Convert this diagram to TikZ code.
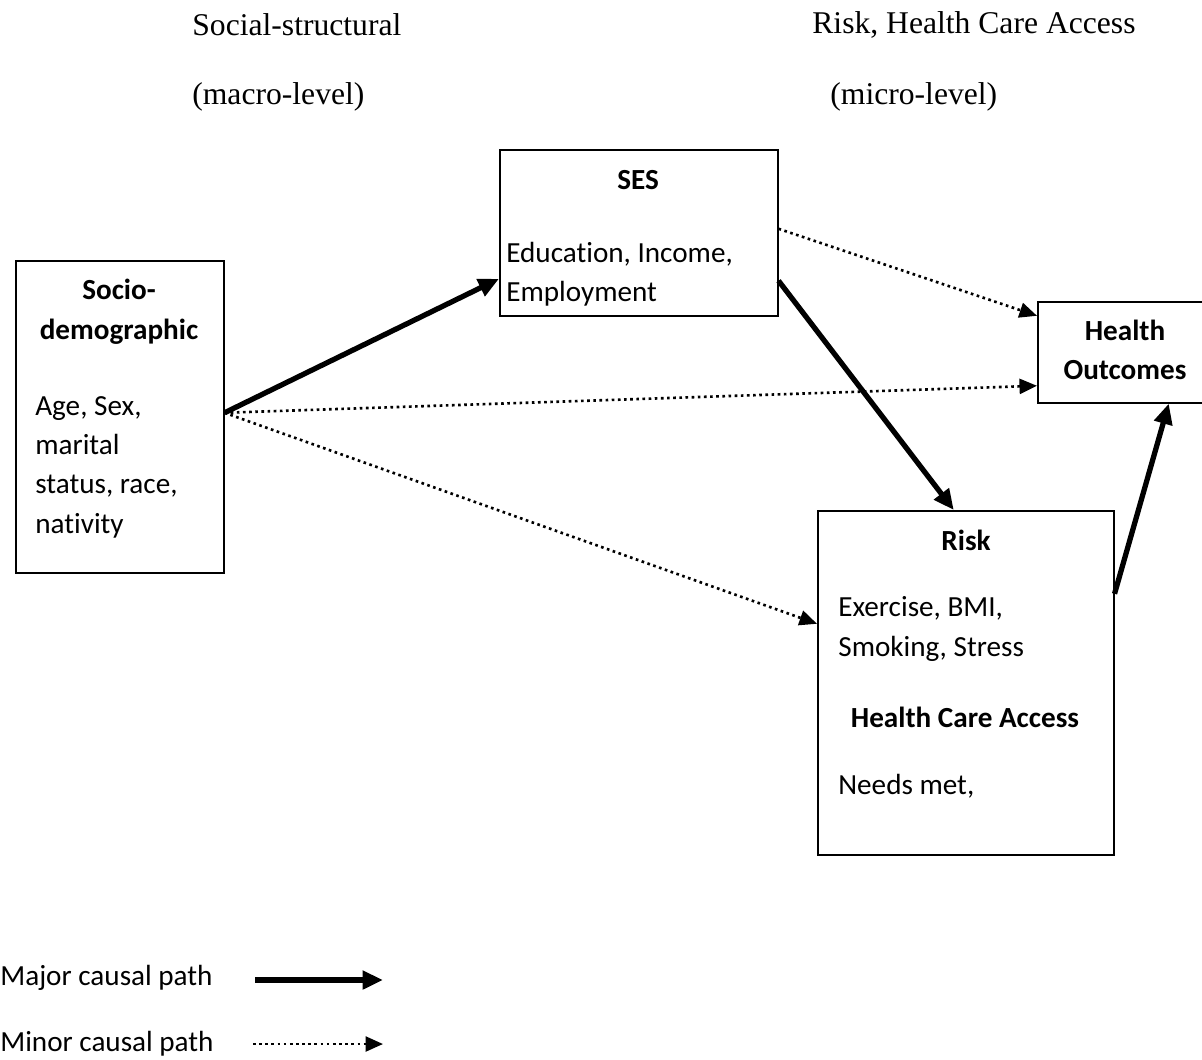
\documentclass[tikz,border=0pt]{standalone}
\usepackage{fontspec}
\setmainfont{Carlito}[Ligatures=NoCommon]
\newfontfamily\headfont{Liberation Serif}
\usepackage{tikz}
\usetikzlibrary{arrows.meta}

\begin{document}
\begin{tikzpicture}[x=0.02cm,y=-0.02cm,
    box/.style={draw, line width=0.9pt, anchor=north west, inner sep=0},
    title/.style={font=\fontsize{16.6}{22.6}\selectfont\bfseries, align=center, inner sep=0},
    body/.style={font=\fontsize{16.6}{22.4}\selectfont, align=left, anchor=west, inner sep=0},
    head/.style={font=\headfont\fontsize{18}{20}\selectfont, anchor=west, inner sep=0},
    major/.style={line width=3pt, -{Triangle[length=0.41cm,width=0.36cm]}},
    minor/.style={line width=1.5pt, dash pattern=on 1.5pt off 2pt, -{Triangle[length=0.35cm,width=0.3cm]}}]
\useasboundingbox (0,0) rectangle (1202,1059);
% level headings
\node[head] at (192,25) (hsocial) {Social-structural};
\node[head] at (192,97) (hmacro) {(macro-level)};
\node[head] at (812,25) (hrisk) {Risk, Health Care Access};
\node[head] at (830,97) (hmicro) {(micro-level)};
% boxes
\node[box, minimum width=4.16cm, minimum height=6.24cm] at (15,260) (socio) {};
\node[box, minimum width=5.56cm, minimum height=3.32cm] at (499,149) (ses) {};
\node[box, minimum width=3.46cm, minimum height=2.02cm] at (1037,301) (health) {};
\node[box, minimum width=5.92cm, minimum height=6.88cm] at (817,510) (risk) {};
% box texts
\node[title] at (119,312) (sociotitle) {Socio-\\demographic};
\node[body] at (35,467) (sociobody) {Age, Sex,\\marital\\status, race,\\nativity};
\node[title] at (638,180) (sestitle) {SES};
\node[body] at (506,274) (sesbody) {Education, Income,\\Employment};
\node[title] at (1125,350) (healthtitle) {Health\\Outcomes};
\node[title] at (966,540) (risktitle) {Risk};
\node[body] at (838,629) (riskbody) {Exercise, BMI,\\Smoking, Stress};
\node[title] at (965,717) (accesstitle) {Health Care Access};
\node[body] at (838,786) (accessbody) {Needs met,};
% paths
\draw[major] ([yshift=0.08cm]socio.east) -- ([yshift=-0.92cm]ses.west);
\draw[minor] ([yshift=0.08cm]socio.east) -- ([yshift=-0.67cm]health.west);
\draw[minor] ([yshift=0.08cm]socio.east) -- ([yshift=1.18cm]risk.west);
\draw[minor] ([yshift=0.08cm]ses.east) -- ([yshift=0.73cm]health.west);
\draw[major] ([yshift=-0.96cm]ses.east) -- ([xshift=-0.24cm]risk.north);
\draw[major] ([yshift=1.78cm]risk.east) -- ([xshift=0.89cm]health.south);
% legend
\node[body] at (0,978) (majortext) {Major causal path};
\node[body] at (0,1044) (minortext) {Minor causal path};
\coordinate (majorfrom) at (255,980);
\coordinate (majorto) at (383,980);
\coordinate (minorfrom) at (253,1044);
\coordinate (minorto) at (383,1044);
\draw[major] (majorfrom) -- (majorto);
\draw[minor] (minorfrom) -- (minorto);
\end{tikzpicture}
\end{document}
